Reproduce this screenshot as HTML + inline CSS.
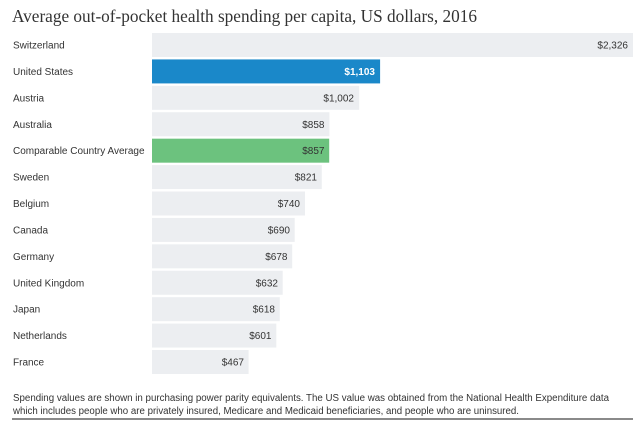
<!DOCTYPE html>
<html><head><meta charset="utf-8"><style>
html,body{margin:0;padding:0;background:#fff;}
svg{display:block;}
</style></head><body>
<svg width="640" height="423" viewBox="0 0 640 423" xmlns="http://www.w3.org/2000/svg">
<rect width="640" height="423" fill="#fff"/>
<text x="12" y="22" font-family="Liberation Serif, serif" font-size="18" fill="#333" textLength="465" lengthAdjust="spacingAndGlyphs">Average out-of-pocket health spending per capita, US dollars, 2016</text>
<g font-family="Liberation Sans, sans-serif" font-size="10" fill="#333">
<rect x="152" y="33" width="481" height="24" fill="#eceef1"/>
<text x="13" y="48.5">Switzerland</text>
<text x="628" y="48.5" text-anchor="end">$2,326</text>

<rect x="152" y="59.42" width="228.1" height="24" fill="#1a88c9"/>
<text x="13" y="74.9">United States</text>
<text x="375" y="74.9" text-anchor="end" fill="#fff" font-weight="bold">$1,103</text>

<rect x="152" y="85.83" width="207.2" height="24" fill="#eceef1"/>
<text x="13" y="101.3">Austria</text>
<text x="354" y="101.3" text-anchor="end">$1,002</text>

<rect x="152" y="112.25" width="177.4" height="24" fill="#eceef1"/>
<text x="13" y="127.75">Australia</text>
<text x="324.5" y="127.75" text-anchor="end">$858</text>

<rect x="152" y="138.67" width="177.2" height="24" fill="#6cc27e"/>
<text x="13" y="154.2">Comparable Country Average</text>
<text x="324.5" y="154.2" text-anchor="end">$857</text>

<rect x="152" y="165.08" width="169.8" height="24" fill="#eceef1"/>
<text x="13" y="180.6">Sweden</text>
<text x="317" y="180.6" text-anchor="end">$821</text>

<rect x="152" y="191.5" width="153" height="24" fill="#eceef1"/>
<text x="13" y="207">Belgium</text>
<text x="300" y="207" text-anchor="end">$740</text>

<rect x="152" y="217.92" width="142.7" height="24" fill="#eceef1"/>
<text x="13" y="233.4">Canada</text>
<text x="290" y="233.4" text-anchor="end">$690</text>

<rect x="152" y="244.33" width="140.2" height="24" fill="#eceef1"/>
<text x="13" y="259.8">Germany</text>
<text x="287.5" y="259.8" text-anchor="end">$678</text>

<rect x="152" y="270.75" width="130.7" height="24" fill="#eceef1"/>
<text x="13" y="286.25">United Kingdom</text>
<text x="278" y="286.25" text-anchor="end">$632</text>

<rect x="152" y="297.17" width="127.8" height="24" fill="#eceef1"/>
<text x="13" y="312.7">Japan</text>
<text x="275" y="312.7" text-anchor="end">$618</text>

<rect x="152" y="323.58" width="124.3" height="24" fill="#eceef1"/>
<text x="13" y="339.1">Netherlands</text>
<text x="271.5" y="339.1" text-anchor="end">$601</text>

<rect x="152" y="350" width="96.6" height="24" fill="#eceef1"/>
<text x="13" y="365.5">France</text>
<text x="244" y="365.5" text-anchor="end">$467</text>

<text x="13" y="401" textLength="596" lengthAdjust="spacingAndGlyphs">Spending values are shown in purchasing power parity equivalents. The US value was obtained from the National Health Expenditure data</text>
<text x="13" y="414" textLength="506" lengthAdjust="spacingAndGlyphs">which includes people who are privately insured, Medicare and Medicaid beneficiaries, and people who are uninsured.</text>
</g>
<rect x="12" y="418" width="621" height="2" fill="#8a8a8a"/>
</svg>
</body></html>
